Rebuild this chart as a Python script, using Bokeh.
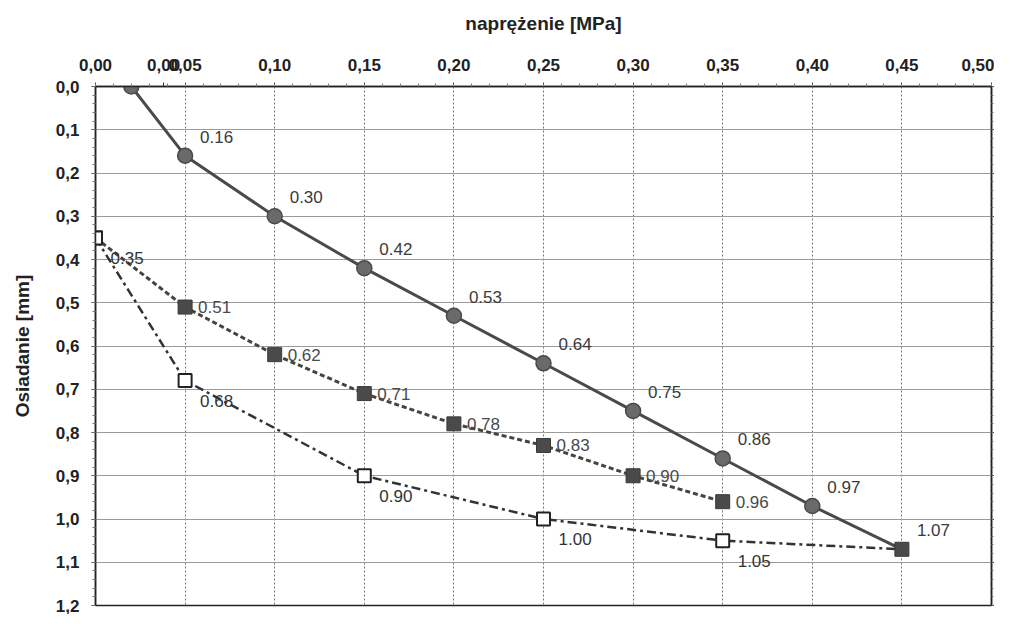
import numpy as np
from bokeh.plotting import figure
from bokeh.models import (LinearAxis, FixedTicker, Range1d, ColumnDataSource,
                          LabelSet)
from bokeh.core.properties import value
from bokeh.embed import file_html
from bokeh.resources import INLINE

# ---------------- data ----------------
x_ticks = [0.00, 0.05, 0.10, 0.15, 0.20, 0.25, 0.30, 0.35, 0.40, 0.45, 0.50]
x_tick_labels = ["0,00", "0,05", "0,10", "0,15", "0,20", "0,25", "0,30",
                 "0,35", "0,40", "0,45", "0,50"]
stray_tick = 0.038          # overlapping stray label printed in the original
stray_label = "0,00"
y_ticks = [0.0, 0.1, 0.2, 0.3, 0.4, 0.5, 0.6, 0.7, 0.8, 0.9, 1.0, 1.1, 1.2]
y_tick_labels = ["0,0", "0,1", "0,2", "0,3", "0,4", "0,5", "0,6", "0,7",
                 "0,8", "0,9", "1,0", "1,1", "1,2"]

# loading curve (circles, solid)
load_x = [0.02, 0.05, 0.10, 0.15, 0.20, 0.25, 0.30, 0.35, 0.40, 0.45]
load_y = [0.00, 0.16, 0.30, 0.42, 0.53, 0.64, 0.75, 0.86, 0.97, 1.07]
# second curve (filled squares, dashed)
sq_x = [0.00, 0.05, 0.10, 0.15, 0.20, 0.25, 0.30, 0.35]
sq_y = [0.35, 0.51, 0.62, 0.71, 0.78, 0.83, 0.90, 0.96]
# third curve (open squares, dash-dot)
op_x = [0.00, 0.05, 0.15, 0.25, 0.35, 0.45]
op_y = [0.35, 0.68, 0.90, 1.00, 1.05, 1.07]

FONT = "Liberation Sans"

p = figure(width=994, height=614, x_range=Range1d(0, 0.5),
           y_range=Range1d(1.2, 0.0), output_backend="svg",
           toolbar_location=None, x_axis_location="above",
           min_border_left=95, min_border_top=86, min_border_right=0,
           min_border_bottom=9)
p.background_fill_color = "white"
p.border_fill_color = "white"
p.outline_line_color = "#222222"
p.outline_line_width = 1.5

x_minor = list(np.round(np.arange(0, 0.5001, 0.01), 3))
y_minor = list(np.round(np.arange(0, 1.2001, 0.02), 3))
xt_axis = FixedTicker(ticks=sorted(x_ticks + [stray_tick]), minor_ticks=x_minor)
xt = FixedTicker(ticks=x_ticks, minor_ticks=x_minor)
yt = FixedTicker(ticks=y_ticks, minor_ticks=y_minor)

x_over = {t: l for t, l in zip(x_ticks, x_tick_labels)}
x_over[stray_tick] = stray_label
for ax in p.xaxis:
    ax.ticker = xt_axis
    ax.major_label_overrides = x_over
    ax.axis_label = "naprężenie [MPa]"
for ax in p.yaxis:
    ax.ticker = yt
    ax.major_label_overrides = {t: l for t, l in zip(y_ticks, y_tick_labels)}
    ax.axis_label = "Osiadanie [mm]"

for ax in list(p.xaxis) + list(p.yaxis):
    ax.axis_label_text_font = FONT
    ax.axis_label_text_font_style = "bold"
    ax.axis_label_text_font_size = "19px"
    ax.axis_label_text_color = "#222222"
    ax.major_label_text_font = FONT
    ax.major_label_text_font_style = "bold"
    ax.major_label_text_font_size = "17px"
    ax.major_label_text_color = "#222222"
    ax.axis_line_color = "#222222"
    ax.axis_line_width = 1.5
    ax.major_tick_out = 4
    ax.major_tick_in = 0
    ax.minor_tick_out = 3
    ax.minor_tick_in = 0
    ax.major_tick_line_color = "#333333"
    ax.minor_tick_line_color = "#777777"
    ax.major_label_standoff = 12
p.xaxis.axis_label_standoff = 22
p.yaxis.axis_label_standoff = 20

rax = LinearAxis(ticker=yt, major_label_overrides={t: "" for t in y_ticks},
                 axis_line_color="#222222", axis_line_width=1.5,
                 major_tick_out=3, major_tick_in=0, minor_tick_out=2,
                 minor_tick_in=0, major_label_standoff=0,
                 minor_tick_line_color="#777777")
p.add_layout(rax, "right")

p.xgrid.ticker = xt
p.ygrid.ticker = yt
p.xgrid.grid_line_color = "#777777"
p.xgrid.grid_line_dash = "2 2"
p.xgrid.grid_line_width = 1
p.ygrid.grid_line_color = "#9a9a9a"
p.ygrid.grid_line_width = 1

# lines
p.line(op_x, op_y, line_color="#333333", line_width=2.5, line_dash="9 4 3 4")
p.line(sq_x, sq_y, line_color="#444444", line_width=3, line_dash="5 3")
p.line(load_x, load_y, line_color="#4a4a4a", line_width=3)

# markers
p.scatter(load_x[:-1], load_y[:-1], marker="circle", size=15,
          fill_color="#6a6a6a", line_color="#4a4a4a", line_width=1.5)
p.scatter(sq_x, sq_y, marker="square", size=14, fill_color="#4a4a4a",
          line_color="#3a3a3a", line_width=1)
p.scatter(op_x[:-1], op_y[:-1], marker="square", size=13, fill_color="white",
          line_color="#222222", line_width=2)
p.scatter(op_x[-1:], op_y[-1:], marker="square", size=14, fill_color="#4a4a4a",
          line_color="#3a3a3a", line_width=1)

# data labels
def lbl(xs, ys, xo, yo, color):
    src = ColumnDataSource(dict(x=xs, y=ys, t=[f"{v:.2f}" for v in ys]))
    p.add_layout(LabelSet(x="x", y="y", text="t", source=src, x_offset=xo,
                          y_offset=yo, text_font=value(FONT),
                          text_font_size=value("17px"),
                          text_color=value(color), text_align=value("left"),
                          text_baseline=value("middle")))

lbl(load_x[1:], load_y[1:], 15, 19, "#3a3a3a")
lbl(sq_x[1:], sq_y[1:], 13, 0, "#4a4a4a")
lbl(op_x[:-1], op_y[:-1], 15, -20, "#333333")

open("out.html", "w").write(file_html(p, INLINE))
